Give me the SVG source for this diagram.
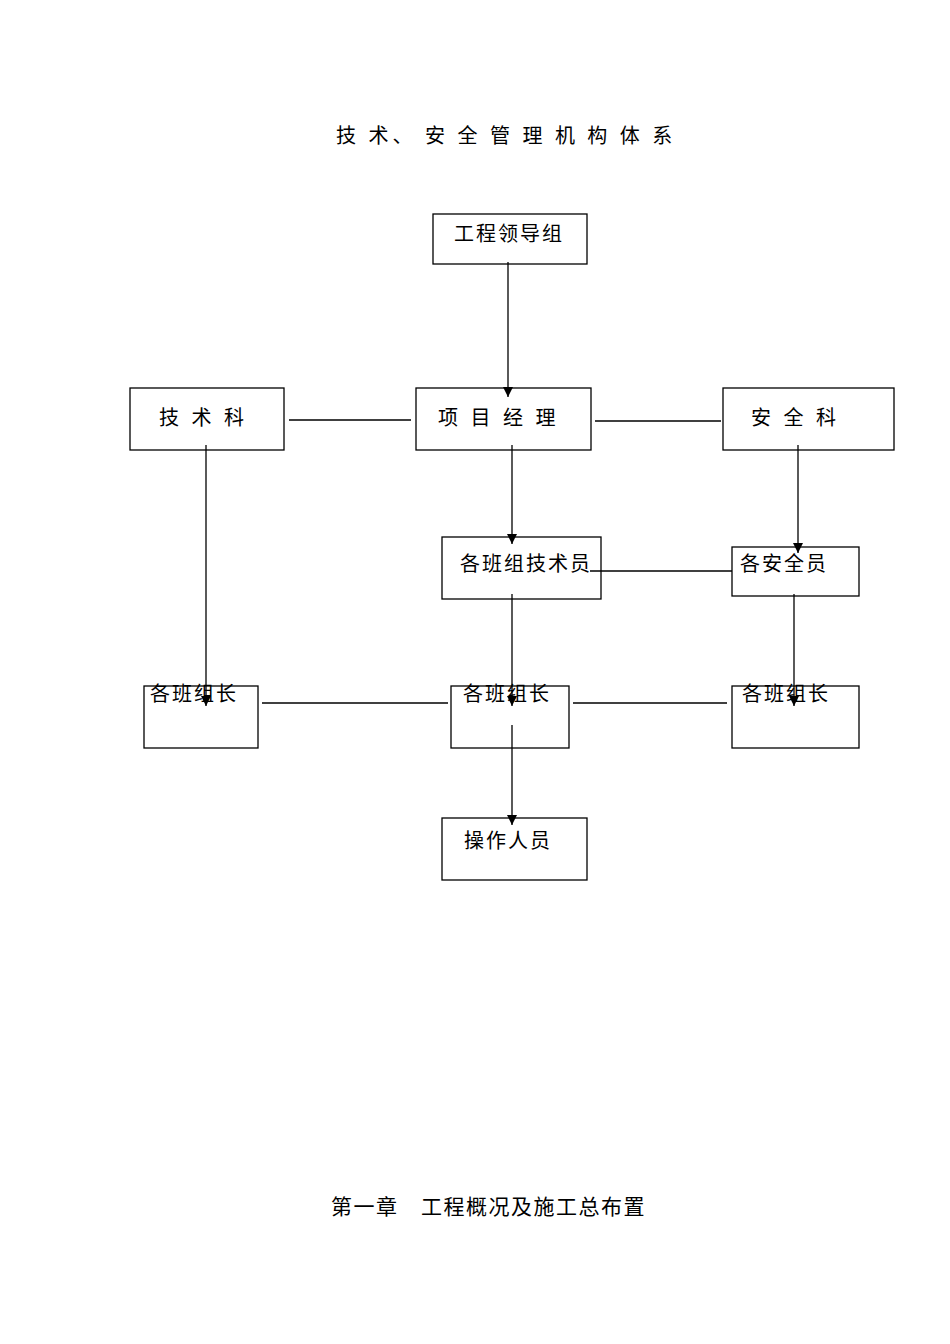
<svg xmlns="http://www.w3.org/2000/svg" width="950" height="1344" viewBox="0 0 950 1344">
<style>
rect{fill:#fff;stroke:#000;stroke-width:1.3}
line{stroke:#000;stroke-width:1.3}
text{font-family:"Noto Sans CJK SC","Liberation Serif",serif;font-size:20px;fill:#000;letter-spacing:2px}
.sp{letter-spacing:4px}
</style>
<defs>
<marker id="d" viewBox="0 0 10 10" markerWidth="10" markerHeight="10" refX="10" refY="5" orient="auto" markerUnits="userSpaceOnUse"><path d="M0,0 L10,5 L0,10z"/></marker></defs>
<rect width="950" height="1344" style="stroke:none"/>
<text x="336" y="143" style="letter-spacing:4px">技 术、 安 全 管 理 机 构 体 系</text>
<g id="n1"><rect x="433" y="214" width="154" height="50"/><text x="454" y="241">工程领导组</text></g>
<g id="n2"><rect x="130" y="388" width="154" height="62"/><text class="sp" x="159" y="425">技 术 科</text></g>
<g id="n3"><rect x="416" y="388" width="175" height="62"/><text class="sp" x="438" y="425">项 目 经 理</text></g>
<g id="n4"><rect x="723" y="388" width="171" height="62"/><text class="sp" x="751" y="425">安 全 科</text></g>
<g id="n5"><rect x="442" y="537" width="159" height="62"/><text x="460" y="571">各班组技术员</text></g>
<g id="n6"><rect x="732" y="547" width="127" height="49"/><text x="740" y="571">各安全员</text></g>
<g id="n7"><rect x="144" y="686" width="114" height="62"/><text x="150" y="701">各班组长</text></g>
<g id="n8"><rect x="451" y="686" width="118" height="62"/><text x="463" y="701">各班组长</text></g>
<g id="n9"><rect x="732" y="686" width="127" height="62"/><text x="742" y="701">各班组长</text></g>
<g id="n10"><rect x="442" y="818" width="145" height="62"/><text x="464" y="848">操作人员</text></g>
<g id="connectors">
<line x1="508" y1="262" x2="508" y2="397" marker-end="url(#d)"/>
<line x1="289" y1="420" x2="411" y2="420"/>
<line x1="595" y1="421" x2="721" y2="421"/>
<line x1="512" y1="445" x2="512" y2="544" marker-end="url(#d)"/>
<line x1="798" y1="445" x2="798" y2="553" marker-end="url(#d)"/>
<line x1="590" y1="571" x2="732" y2="571"/>
<line x1="206" y1="445" x2="206" y2="706" marker-end="url(#d)"/>
<line x1="512" y1="594" x2="512" y2="706" marker-end="url(#d)"/>
<line x1="794" y1="594" x2="794" y2="706" marker-end="url(#d)"/>
<line x1="262" y1="703" x2="448" y2="703"/>
<line x1="573" y1="703" x2="727" y2="703"/>
<line x1="512" y1="725" x2="512" y2="825" marker-end="url(#d)"/>
</g>
<text x="331" y="1214" style="font-size:21px;letter-spacing:1.5px">第一章　工程概况及施工总布置</text>
</svg>
